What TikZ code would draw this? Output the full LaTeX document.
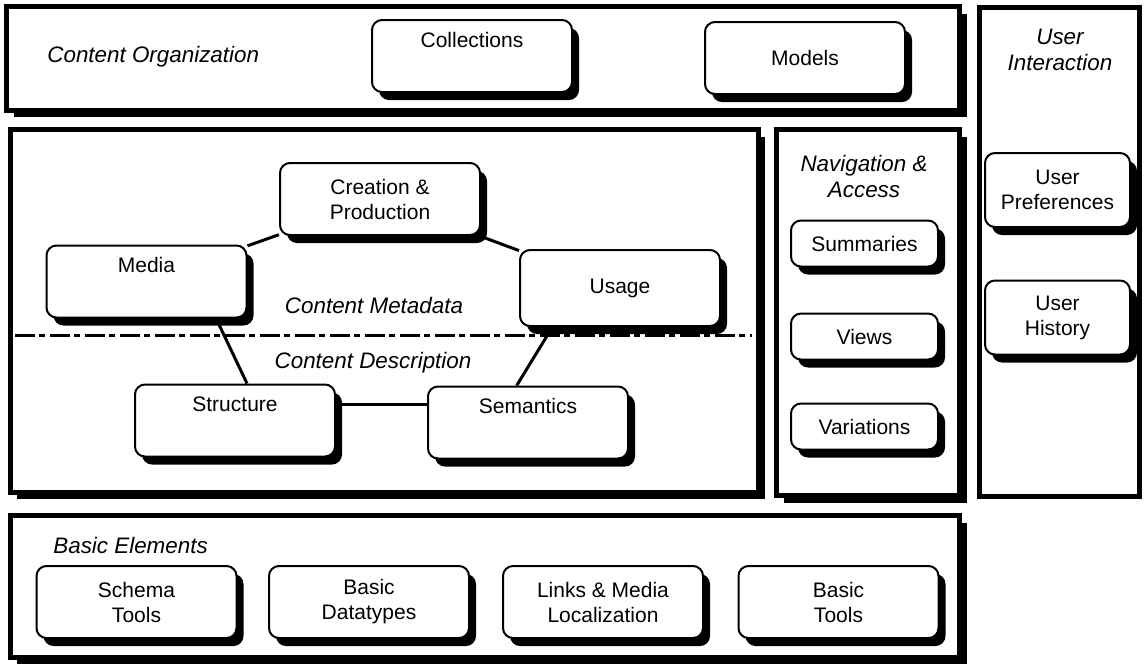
\documentclass[tikz,border=0pt]{standalone}
\usepackage{fontspec}
\setmainfont{Liberation Sans}
\usepackage{tikz}
\usetikzlibrary{shadows}

\tikzset{
  block/.style={draw, line width=1pt, fill=white, rounded corners=5pt, inner sep=0pt, align=center,
    minimum width=100pt, minimum height=36pt,
    drop shadow={shadow xshift=3.5pt, shadow yshift=-4pt, fill=black, opacity=1}},
  navblock/.style={block, minimum width=73.5pt, minimum height=23pt},
  userblock/.style={block, minimum width=72.5pt, minimum height=37pt},
  panel/.style={draw, line width=2.5pt},
  shadepanel/.style={panel, fill=white, drop shadow={shadow xshift=3.5pt, shadow yshift=-3.5pt, fill=black, opacity=1}},
  heading/.style={font=\fontsize{11.2}{13}\selectfont\itshape, align=center, inner sep=0pt},
  joint/.style={line width=1.5pt},
  divider/.style={line width=1.5pt, dash pattern=on 10pt off 2pt on 3pt off 2.5pt}
}

\begin{document}
\begin{tikzpicture}[x=0.5pt, y=-0.5pt, font=\fontsize{10.5}{12.5}\selectfont]
\useasboundingbox (0,0) rectangle (1146,666);

% outer panels
\draw[shadepanel] (6.5,6.5) rectangle (959.5,110);
\draw[shadepanel] (10,129.5) rectangle (758,492);
\draw[shadepanel] (776.5,129.5) rectangle (959.5,495.5);
\draw[panel] (979.5,7.5) rectangle (1139.5,496);
\draw[shadepanel] (10,515.5) rectangle (959.5,657);

% content organization
\node[heading, anchor=west] (orglabel) at (47,57) {Content Organization};
\node[block] (coll) at (472,56) {Collections\\\strut};
\node[block] (models) at (805,58) {Models};

% content metadata / description
\node[block] (create) at (380,199) {Creation \&\\Production};
\node[block] (media) at (146.5,281.5) {Media\\\strut};
\node[block, minimum height=38pt] (usage) at (620,288) {Usage};
\node[block] (struct) at (235,420.5) {Structure\\\strut};
\node[block] (sem) at (528,422.5) {Semantics\\\strut};

\node[heading] (metalabel) at (374,305) {Content Metadata};
\node[heading] (desclabel) at (373,363) {Content Description};
\draw[divider] (15,335) -- (752,335);

\draw[joint] (media) -- (create);
\draw[joint] (create) -- (usage);
\draw[joint] (media.-28) -- (struct.72);
\draw[joint] (usage.-150) -- (sem.107);
\draw[joint] (struct.9) -- (sem.west |- struct.9);

% navigation & access
\node[heading] (navlabel) at (864,176) {Navigation \&\\Access};
\node[navblock] (summ) at (864.5,243.5) {Summaries};
\node[navblock] (views) at (864.5,336.5) {Views};
\node[navblock] (var) at (864.5,426.5) {Variations};

% user interaction
\node[heading] (userlabel) at (1060,50) {User\\Interaction};
\node[userblock] (upref) at (1057.5,190) {User\\Preferences};
\node[userblock] (uhist) at (1057.5,317.5) {User\\History};

% basic elements
\node[heading, anchor=west] (baselabel) at (53,545) {Basic Elements};
\node[block] (schema) at (136.5,602) {Schema\\Tools};
\node[block] (dtypes) at (369,602) {Basic\\Datatypes};
\node[block] (links) at (603,602) {Links \& Media\\Localization};
\node[block] (btools) at (838.5,602) {Basic\\Tools};
\end{tikzpicture}
\end{document}
